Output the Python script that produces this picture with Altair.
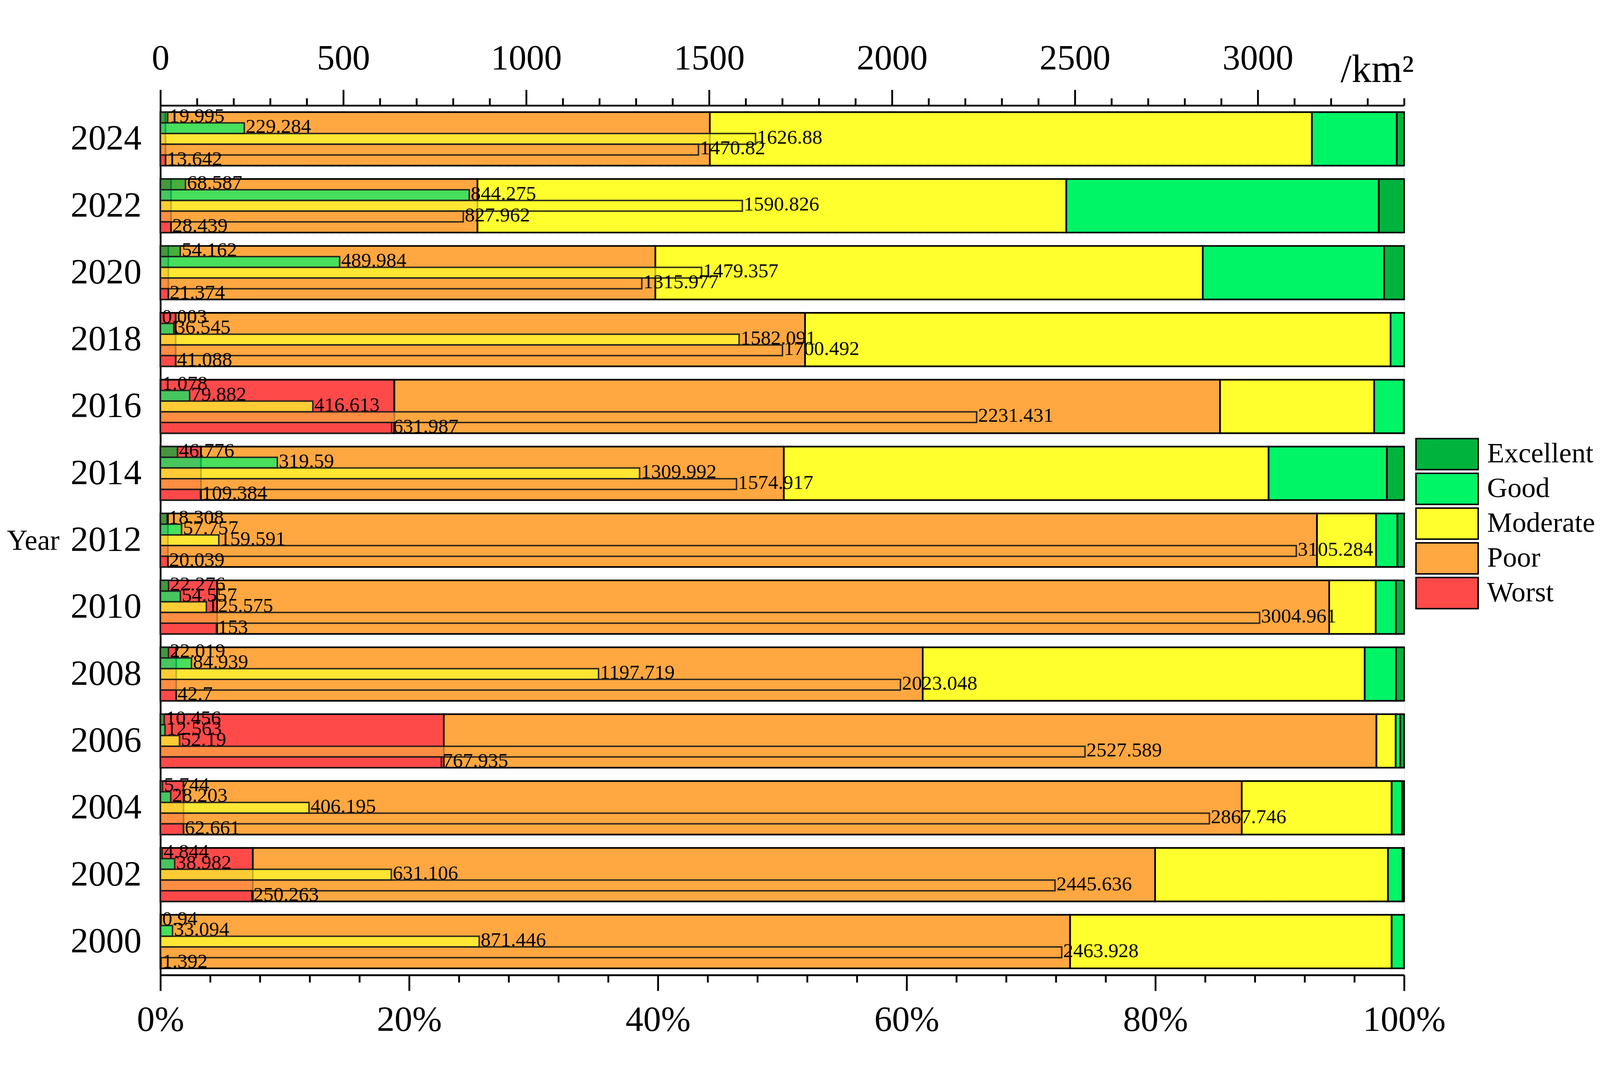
import altair as alt
import pandas as pd

years = [2024, 2022, 2020, 2018, 2016, 2014, 2012, 2010, 2008, 2006, 2004, 2002, 2000]
categories = ["Excellent", "Good", "Moderate", "Poor", "Worst"]
colors = ["#00B33C", "#00F566", "#FFFF2E", "#FFA740", "#FF4A4A"]
stack_order = {"Worst": 0, "Poor": 1, "Moderate": 2, "Good": 3, "Excellent": 4}

excellent = [19.995, 68.587, 54.162, 0.003, 1.078, 46.776, 18.308, 22.276, 22.019, 10.456, 5.744, 4.844, 0.94]
good = [229.284, 844.275, 489.984, 36.545, 79.882, 319.59, 57.757, 54.557, 84.939, 12.563, 28.203, 38.982, 33.094]
moderate = [1626.88, 1590.826, 1479.357, 1582.091, 416.613, 1309.992, 159.591, 125.575, 1197.719, 52.19, 406.195, 631.106, 871.446]
poor = [1470.82, 827.962, 1315.977, 1700.492, 2231.431, 1574.917, 3105.284, 3004.961, 2023.048, 2527.589, 2867.746, 2445.636, 2463.928]
worst = [13.642, 28.439, 21.374, 41.088, 631.987, 109.384, 20.039, 153, 42.7, 767.935, 62.661, 250.263, 1.392]

series = {"Excellent": excellent, "Good": good, "Moderate": moderate, "Poor": poor, "Worst": worst}

rows = []
for cat in categories:
    for yr, v in zip(years, series[cat]):
        lab = str(v)
        if lab.endswith(".0"):
            lab = lab[:-2]
        rows.append({"Year": str(yr), "Category": cat, "value": v, "label": lab, "ord": stack_order[cat]})
df = pd.DataFrame(rows)

FONT = "Liberation Serif"
year_sort = [str(y) for y in years]

y_enc = alt.Y(
    "Year:N",
    sort=year_sort,
    scale=alt.Scale(paddingInner=0.2, paddingOuter=0.1),
    axis=alt.Axis(
        title="Year", titleAngle=0, titleAlign="left", titleBaseline="alphabetic",
        titleX=-420, titleY=1215, titleFontSize=78, titleFontWeight="normal", titleFont=FONT,
        titleColor="black",
        labelFontSize=97, labelFont=FONT, labelColor="black", labelPadding=52, labelLimit=0,
        ticks=False, domain=True, domainColor="black", domainWidth=5,
        grid=True, tickBand="extent", gridColor="#c8c8c8", gridDash=[14, 9], gridWidth=3,
    ),
)

color_enc_bg = alt.Color(
    "Category:N",
    scale=alt.Scale(domain=categories, range=colors),
    legend=alt.Legend(
        title=None, orient="none", legendX=3473, legendY=909,
        symbolType="M-2,-1H2V1H-2Z", symbolSize=7225,
        symbolStrokeColor="black", symbolStrokeWidth=4, symbolOpacity=1,
        labelFont=FONT, labelFontSize=77, labelColor="black", labelOffset=65,
        labelLimit=0, rowPadding=-12, padding=0,
    ),
)

bg = alt.Chart(df).mark_bar(stroke="black", strokeWidth=4.5).encode(
    x=alt.X(
        "value:Q", stack="normalize",
        scale=alt.Scale(domain=[0, 1], nice=False),
        axis=alt.Axis(
            orient="bottom", title=None, grid=False,
            values=[i * 0.04 for i in range(26)],
            tickSize={"condition": {"test": "round(datum.value*100) % 20 == 0", "value": 43}, "value": 20},
            tickColor="black", tickWidth=5,
            labelExpr="round(datum.value*100) % 20 == 0 ? format(datum.value, '.0%') : ''",
            labelFont=FONT, labelFontSize=97, labelColor="black", labelPadding=32,
            labelFlush=False, labelOverlap=False, labelLimit=0,
            domainColor="black", domainWidth=5,
        ),
    ),
    y=y_enc,
    color=color_enc_bg,
    order=alt.Order("ord:Q", sort="ascending"),
)

x_top = alt.X(
    "value:Q", stack=None,
    scale=alt.Scale(domain=[0, 3400], nice=False),
    axis=alt.Axis(
        orient="top", title="/km²", titleAngle=0, titleAlign="left", titleBaseline="alphabetic",
        titleX=3226, titleY=-65, titleFont=FONT, titleFontSize=108, titleFontWeight="normal",
        titleColor="black",
        grid=False, values=list(range(0, 3401, 100)),
        tickSize={"condition": {"test": "datum.value % 500 == 0", "value": 43}, "value": 20},
        tickColor="black", tickWidth=5,
        labelExpr="datum.value % 500 == 0 ? datum.value : ''",
        labelFont=FONT, labelFontSize=97, labelColor="black", labelPadding=36,
        labelFlush=False, labelOverlap=False, labelLimit=0,
        domainColor="black", domainWidth=5,
    ),
)

yoff = alt.YOffset("Category:N", sort=categories, scale=alt.Scale(paddingInner=0, paddingOuter=0))

thin = alt.Chart(df).mark_bar(
    fillOpacity=0.72, stroke="#1a1a1a", strokeOpacity=0.9, strokeWidth=4
).encode(
    x=x_top,
    y=alt.Y("Year:N", sort=year_sort),
    yOffset=yoff,
    color=alt.Color("Category:N", legend=None),
)

labels = alt.Chart(df).mark_text(
    align="left", baseline="alphabetic", dx=4, dy=13, fontSize=55, font=FONT, color="black"
).encode(
    x=alt.X("value:Q", stack=None, scale=alt.Scale(domain=[0, 3400], nice=False), axis=None),
    y=alt.Y("Year:N", sort=year_sort),
    yOffset=yoff,
    text="label:N",
)

chart = (
    alt.layer(bg, thin, labels)
    .resolve_scale(x="independent")
    .properties(
        width=3400, height=2378,
        autosize=alt.AutoSizeParams(type="none"),
        padding={"left": 430, "top": 187, "right": 527, "bottom": 170},
    )
    .configure_view(stroke="black", strokeWidth=5)
    .configure(font=FONT)
)

chart.save("out.html", embed_options={"renderer": "svg", "actions": False})
